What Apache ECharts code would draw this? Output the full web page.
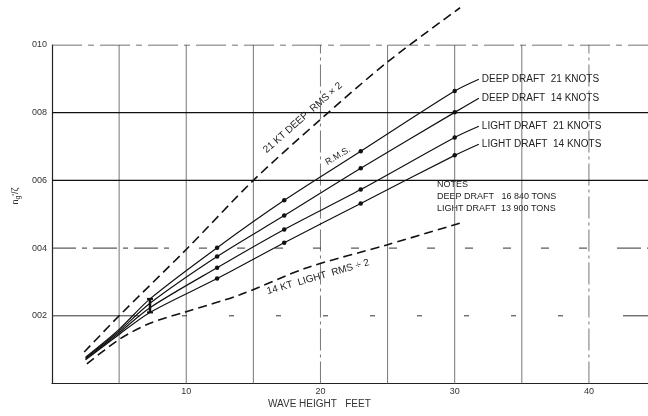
<!DOCTYPE html>
<html>
<head>
<meta charset="utf-8">
<script src="https://cdn.jsdelivr.net/npm/echarts@6/dist/echarts.min.js"></script>
<style>
html,body{margin:0;padding:0;background:#fff;}
#c{width:648px;height:416px;}
</style>
</head>
<body>
<div id="c"></div>
<script>
// ---- data ----
const xPts = [2.5, 5, 7.3, 12.3, 17.3, 23, 30, 31.8];
const deep21 = [0.00078, 0.0016, 0.0025, 0.00401, 0.00541, 0.00686, 0.00864, 0.00899];
const deep14 = [0.00075, 0.00155, 0.00237, 0.00375, 0.00496, 0.00636, 0.00801, 0.00843];
const light21 = [0.00072, 0.0015, 0.00224, 0.00342, 0.00455, 0.00573, 0.00727, 0.0076];
const light14 = [0.0007, 0.00145, 0.0021, 0.0031, 0.00416, 0.00532, 0.00674, 0.00707];
const markedIdx = [3, 4, 5, 6];

const upperX = [2.4, 5, 10, 15, 20, 25, 30.4];
const upperY = [0.00093, 0.002, 0.00396, 0.006, 0.0078, 0.0095, 0.0111];
const lowerX = [2.6, 5, 7.3, 10, 14, 19, 25, 30.5];
const lowerY = [0.00058, 0.0013, 0.00178, 0.00212, 0.00262, 0.00342, 0.0041, 0.00475];

const ibarX = [7.3, 7.3];
const ibarY = [0.0021, 0.0025];

const xMin = 0, xMax = 44.4, yMin = 0, yMax = 0.010;
const xGridVals = [5, 10, 15, 20, 25, 30, 35, 40];
const xTickVals = [10, 20, 30, 40];
const xTickLabels = ['10', '20', '30', '40'];
const yTickVals = [0.002, 0.004, 0.006, 0.008, 0.010];
const yTickLabels = ['002', '004', '006', '008', '010'];

const curveNames = ['DEEP DRAFT  21 KNOTS', 'DEEP DRAFT  14 KNOTS', 'LIGHT DRAFT  21 KNOTS', 'LIGHT DRAFT  14 KNOTS'];
const notes = ['NOTES', 'DEEP DRAFT   16 840 TONS', 'LIGHT DRAFT  13 900 TONS'];

// ---- helpers ----
const FONT = '"Liberation Sans", Arial, sans-serif';
function zip(xs, ys) { return xs.map((x, i) => [x, ys[i]]); }
function curveData(ys) {
  return xPts.map((x, i) => ({
    value: [x, ys[i]],
    symbol: markedIdx.indexOf(i) >= 0 ? 'circle' : 'none',
    symbolSize: 4.5
  }));
}
function curveSeries(name, ys) {
  return {
    name: name, type: 'line', smooth: 0.3, data: curveData(ys),
    lineStyle: { color: '#111', width: 1.2 },
    itemStyle: { color: '#111' },
    showSymbol: true, silent: true, animation: false,
    endLabel: {
      show: true, formatter: '{a}', color: '#222', fontFamily: FONT,
      fontSize: 10, distance: 3
    },
    z: 5
  };
}
function fmtX(v) { const i = xTickVals.indexOf(Math.round(v)); return (i >= 0 && Math.abs(v - xTickVals[i]) < 1e-6) ? xTickLabels[i] : ''; }
function fmtY(v) {
  for (let i = 0; i < yTickVals.length; i++) if (Math.abs(v - yTickVals[i]) < 1e-7) return yTickLabels[i];
  return '';
}
const hStyles = [
  { color: '#333', width: 1, type: [88, 42, 5, 42, 5, 42, 5, 42, 5, 42, 5, 42, 5, 42, 5, 42, 5, 42, 5, 60] },  // 002
  { color: '#333', width: 1, type: [24, 6, 5, 6, 24, 6, 5, 6, 24, 6, 5, 30, 8, 30, 8, 30, 8, 30, 8, 30, 8, 30, 8, 30, 8, 30, 8, 30, 8, 30, 8, 30, 8, 30] }, // 004
  { color: '#111', width: 1.2, type: 'solid' },          // 006
  { color: '#111', width: 1.2, type: 'solid' },          // 008
  { color: '#444', width: 1, type: [30, 6, 6, 6] }       // 010
];
const hSeries = yTickVals.map((v, i) => ({
  name: 'h' + yTickLabels[i], type: 'line', data: [[xMin, v], [xMax, v]],
  symbol: 'none', lineStyle: hStyles[i], silent: true, z: 1
}));
const solidV = { color: '#666', width: 0.9, type: 'solid' };
const dashV = { color: '#666', width: 0.9, type: [22, 4, 3, 4] };
const vSeries = xGridVals.map((v) => ({
  name: 'v' + v, type: 'line', data: [[v, yMin], [v, yMax]],
  symbol: 'none', lineStyle: (v === 20 || v === 40) ? dashV : solidV, silent: true, z: 1
}));

const chart = echarts.init(document.getElementById('c'), null, { renderer: 'canvas' });
chart.setOption({
  animation: false,
  backgroundColor: '#fff',
  grid: { left: 52, right: 0, top: 45, bottom: 32.5, containLabel: false },
  xAxis: {
    type: 'value', min: xMin, max: xMax, interval: 5,
    axisLine: { show: true, lineStyle: { color: '#222', width: 1.2 } },
    axisTick: { show: false },
    axisLabel: { formatter: fmtX, color: '#333', fontSize: 9, fontFamily: FONT, margin: 4, showMaxLabel: false },
    splitLine: { show: false }
  },
  yAxis: {
    type: 'value', min: yMin, max: yMax, interval: 0.002,
    axisLine: { show: true, lineStyle: { color: '#222', width: 1.2 } },
    axisTick: { show: false },
    axisLabel: { formatter: fmtY, color: '#333', fontSize: 9, fontFamily: FONT, margin: 5 },
    splitLine: { show: false }
  },
  series: vSeries.concat(hSeries).concat([
    curveSeries(curveNames[0], deep21),
    curveSeries(curveNames[1], deep14),
    curveSeries(curveNames[2], light21),
    curveSeries(curveNames[3], light14),
    {
      name: 'upper', type: 'line', smooth: 0.3, data: zip(upperX, upperY), clip: false,
      symbol: 'none', lineStyle: { color: '#111', width: 1.6, type: [9, 5] }, silent: true, z: 4
    },
    {
      name: 'lower', type: 'line', smooth: 0.3, data: zip(lowerX, lowerY),
      symbol: 'none', lineStyle: { color: '#111', width: 1.6, type: [9, 5] }, silent: true, z: 4
    },
    {
      name: 'ibar', type: 'line', data: zip(ibarX, ibarY), symbol: 'rect', symbolSize: [6, 2],
      lineStyle: { color: '#111', width: 2.5 }, itemStyle: { color: '#111' }, silent: true, z: 6
    }
  ]),
  graphic: [
    { type: 'text', left: 268, top: 399, style: { text: 'WAVE HEIGHT   FEET', fill: '#333', font: '10px ' + FONT } },
    { type: 'text', x: 16, y: 196, rotation: Math.PI / 2, style: {
        text: "n{s|g}'/ζ", fill: '#333', font: '9px ' + FONT, align: 'center', verticalAlign: 'middle',
        rich: { s: { fontSize: 7, fill: '#333', fontFamily: FONT, padding: [5, 0, 0, 0] } } } },
    { type: 'text', x: 268, y: 155, rotation: 0.72, style: { text: '21 KT DEEP  RMS × 2', fill: '#222', font: '10px ' + FONT, align: 'left', verticalAlign: 'bottom' } },
    { type: 'text', x: 338, y: 156, rotation: 0.55, style: { text: 'R.M.S.', fill: '#222', font: '9px ' + FONT, align: 'center', verticalAlign: 'middle' } },
    { type: 'text', x: 318, y: 277, rotation: 0.28, style: { text: '14 KT  LIGHT  RMS ÷ 2', fill: '#222', font: '10px ' + FONT, align: 'center', verticalAlign: 'middle' } },
    { type: 'text', left: 437, top: 179, style: { text: notes.join('\n'), fill: '#222', font: '9px ' + FONT, lineHeight: 12, backgroundColor: '#fff' } }
  ]
});
</script>
</body>
</html>
